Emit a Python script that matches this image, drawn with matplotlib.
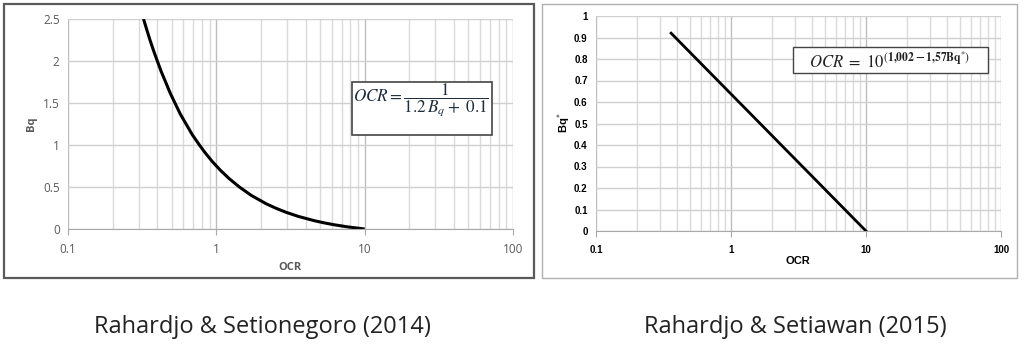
import numpy as np
import matplotlib
matplotlib.use("Agg")
import matplotlib.pyplot as plt
from matplotlib.patches import Rectangle
from matplotlib.ticker import FixedLocator, NullFormatter, LogLocator

# ---- data ----
ocr_left = [0.323, 0.34, 0.357, 0.378, 0.40, 0.426, 0.455, 0.488, 0.526, 0.571,
            0.625, 0.69, 0.769, 0.847, 0.943, 1.064, 1.22, 1.43, 1.72, 2.17,
            2.50, 2.94, 3.57, 4.55, 5.26, 6.25, 7.69, 10.0]
bq_left = [2.5, 2.37, 2.25, 2.12, 2.0, 1.87, 1.75, 1.62, 1.5, 1.37,
           1.25, 1.12, 1.0, 0.9, 0.8, 0.7, 0.6, 0.5, 0.4, 0.3,
           0.25, 0.2, 0.15, 0.1, 0.075, 0.05, 0.025, 0.0]
ocr_right = [0.36, 10.0]
bq_right = [0.92, 0.0]

x_ticks = [0.1, 1, 10, 100]
x_ticklabels = ["0.1", "1", "10", "100"]
y_ticks_left = [0, 0.5, 1, 1.5, 2, 2.5]
y_ticklabels_left = ["0", "0.5", "1", "1.5", "2", "2.5"]
y_ticks_right = [0, 0.1, 0.2, 0.3, 0.4, 0.5, 0.6, 0.7, 0.8, 0.9, 1]
y_ticklabels_right = ["0", "0.1", "0.2", "0.3", "0.4", "0.5", "0.6", "0.7", "0.8", "0.9", "1"]
caption_left = "Rahardjo & Setionegoro (2014)"
caption_right = "Rahardjo & Setiawan (2015)"

W, H = 1024, 344
plt.rcParams["mathtext.fontset"] = "stix"
fig = plt.figure(figsize=(W / 100, H / 100), dpi=100)
fig.patch.set_facecolor("white")


def rect(x0, y0, x1, y1):
    return [x0 / W, 1 - y1 / H, (x1 - x0) / W, (y1 - y0) / H]


def fpx(x, y):
    return x / W, 1 - y / H


# panel frames
fig.patches.append(Rectangle(fpx(4, 278), 530 / W, 274 / H, transform=fig.transFigure,
                             fill=False, edgecolor="#5a5a5a", lw=1.6))
fig.patches.append(Rectangle(fpx(542, 278), 475 / W, 274 / H, transform=fig.transFigure,
                             fill=False, edgecolor="#b0b0b0", lw=1.0))


def style_axes(ax, ymax, yt, ytl, label_kw):
    ax.set_xscale("log")
    ax.set_xlim(0.1, 100)
    ax.set_ylim(0, ymax)
    ax.xaxis.set_major_locator(FixedLocator(x_ticks))
    ax.xaxis.set_minor_locator(LogLocator(base=10, subs=np.arange(2, 10)))
    ax.xaxis.set_minor_formatter(NullFormatter())
    ax.set_xticklabels(x_ticklabels, **label_kw)
    ax.set_yticks(yt)
    ax.set_yticklabels(ytl, **label_kw)
    ax.grid(which="major", axis="x", color="#bdbdbd", lw=1.0)
    ax.grid(which="minor", axis="x", color="#dadada", lw=1.0)
    ax.grid(which="major", axis="y", color="#d0d0d0", lw=1.0)
    ax.set_axisbelow(True)
    for s in ["top", "right", "left"]:
        ax.spines[s].set_visible(False)
    ax.spines["bottom"].set_color("#a8a8a8")
    ax.tick_params(axis="y", length=0, pad=6)
    ax.tick_params(axis="x", which="major", length=4, color="#a8a8a8", pad=6)
    ax.tick_params(axis="x", which="minor", length=0)


# ---- left chart ----
axL = fig.add_axes(rect(68, 19, 513, 229))
style_axes(axL, 2.5, y_ticks_left, y_ticklabels_left,
           dict(fontsize=8.5, color="#595959", family="Open Sans"))
axL.plot(ocr_left, bq_left, color="black", lw=2.2, solid_joinstyle="round",
         solid_capstyle="butt")
fig.text(*fpx(31, 124), "Bq", rotation=90, ha="center", va="center",
         fontsize=8, fontweight="bold", color="#595959", family="Open Sans")
fig.text(*fpx(290, 267), "OCR", ha="center", va="center",
         fontsize=8, fontweight="bold", color="#595959", family="Open Sans")
fig.patches.append(Rectangle(fpx(352, 135), 140 / W, 53 / H, transform=fig.transFigure,
                             facecolor="white", edgecolor="#444444", lw=1.2, zorder=5))
fig.text(*fpx(353, 100), r"$OCR = \dfrac{1}{1.2\,B_q +\ 0.1}$", ha="left", va="center",
         fontsize=12.3, color="#1f2d3d", zorder=6)

# ---- right chart ----
axR = fig.add_axes(rect(596, 16, 1001, 231))
style_axes(axR, 1.0, y_ticks_right, y_ticklabels_right,
           dict(fontsize=7, color="black", fontweight="bold", family="Liberation Sans"))
axR.plot(ocr_right, bq_right, color="black", lw=2.0)
fig.text(*fpx(564, 123), r"Bq$^{*}$", rotation=90, ha="center", va="center",
         fontsize=8, fontweight="bold", color="black", family="Liberation Sans")
fig.text(*fpx(798, 261), "OCR", ha="center", va="center",
         fontsize=8, fontweight="bold", color="black", family="Liberation Sans")
fig.patches.append(Rectangle(fpx(793, 73), 195 / W, 26 / H, transform=fig.transFigure,
                             facecolor="white", edgecolor="#444444", lw=1.0, zorder=5))
fig.text(*fpx(890, 61), r"$OCR\ =\ 10^{(\mathbf{1{,}002 - 1{,}57}\mathbf{Bq}^{*})}$",
         ha="center", va="center", fontsize=12, color="#222222", zorder=6)

# ---- captions ----
fig.text(*fpx(262, 327), caption_left, ha="center", va="center",
         fontsize=17, color="#222222", family="Open Sans")
fig.text(*fpx(795, 327), caption_right, ha="center", va="center",
         fontsize=17, color="#222222", family="Open Sans")

fig.savefig("out.png", dpi=100, facecolor="white")
